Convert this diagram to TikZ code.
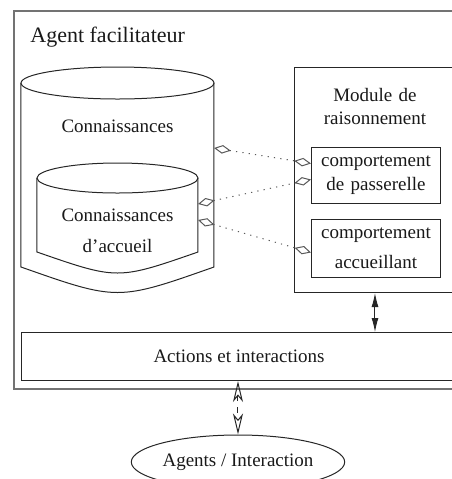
\documentclass[tikz,border=0pt]{standalone}
\usepackage{fontspec}
\setmainfont{Liberation Serif}
\usetikzlibrary{arrows.meta,calc,shapes.geometric}
\tikzset{
  stip/.tip={Latex[length=7pt, width=3.5pt]},
  otip/.tip={Stealth[open, length=10.5pt, width=5pt, inset=3pt, line width=0.5pt]},
  dtip/.tip={Diamond[open, length=8.5pt, width=4.3pt, line width=0.5pt]}
}
\begin{document}
\begin{tikzpicture}[x=0.5pt,y=-0.5pt,
  line/.style={draw=black!85, line width=0.5pt},
  box/.style={draw=black!85, line width=0.5pt, inner sep=0pt, anchor=north west},
  txt/.style={font=\fontsize{9.5}{11.5}\selectfont, inner sep=0pt, align=center, text=black!90},
  link/.style={draw=black!65, line width=0.5pt, dash pattern=on 0.6pt off 2.6pt, dtip-dtip}]
\useasboundingbox (0,0) rectangle (452,479);
\clip (0,0) rectangle (452,479);
% outer frame
\node[box, draw=black!55, line width=0.8pt, minimum width=223.5pt, minimum height=189pt] (frame) at (13,10) {};
\node[anchor=base west, inner sep=0pt, font=\fontsize{11}{13}\selectfont, text=black!90] (title) at (30,42) {Agent facilitateur};
% big cylinder
\draw[line] (21,83) -- (21,267) .. controls (117.5,301) .. (214,267) -- (214,83);
\draw[line] (117.5,83) ellipse [x radius=96.5, y radius=16];
\node[txt] (know) at (117.5,126) {Connaissances};
% inner cylinder
\draw[line] (37,178) -- (37,252) .. controls (117.5,280) .. (198,252) -- (198,178);
\draw[line] (117.5,178) ellipse [x radius=80.5, y radius=15];
\node[txt] (acc1) at (117.5,215) {Connaissances};
\node[txt] (acc2) at (117.5,246) {d’accueil};
% module de raisonnement
\node[box, minimum width=81pt, minimum height=112.5pt] (module) at (294,67) {};
\node[txt, text width=80pt] (modtxt) at (375,106) {Module de\\raisonnement};
\node[box, minimum width=64.5pt, minimum height=28pt] (pass) at (311,147) {};
\node[txt, text width=64pt, font=\fontsize{9.5}{12}\selectfont] (passtxt) at (pass.center) {comportement\\de passerelle};
\node[box, minimum width=64.5pt, minimum height=29pt] (acc) at (311,219) {};
\node[txt, text width=64pt, font=\fontsize{9.5}{15}\selectfont] (acctxt) at (acc.center) {comportement\\accueillant};
% actions
\node[box, minimum width=217.5pt, minimum height=24pt] (actions) at (21,332) {};
\node[txt] (acttxt) at (actions.center) {Actions et interactions};
% external
\node[txt, ellipse, draw=black!85, line width=0.5pt, inner sep=0pt, minimum width=105pt, minimum height=27pt] (agents) at (238,462) {Agents / Interaction};
% connectors
\coordinate (k1) at (214,148);
\coordinate (k2) at (198,204);
\coordinate (k3) at (198,220);
\draw[link] (k1) -- ([yshift=6pt]pass.west);
\draw[link] (k2) -- ([yshift=-2pt]pass.west);
\draw[link] (k3) -- ([yshift=-2pt]acc.west);
\draw[line, stip-stip] (modtxt |- module.south) -- (modtxt |- actions.north);
\draw[line, dashed, otip-otip] (agents |- actions.south) -- (agents.north);
\end{tikzpicture}
\end{document}
